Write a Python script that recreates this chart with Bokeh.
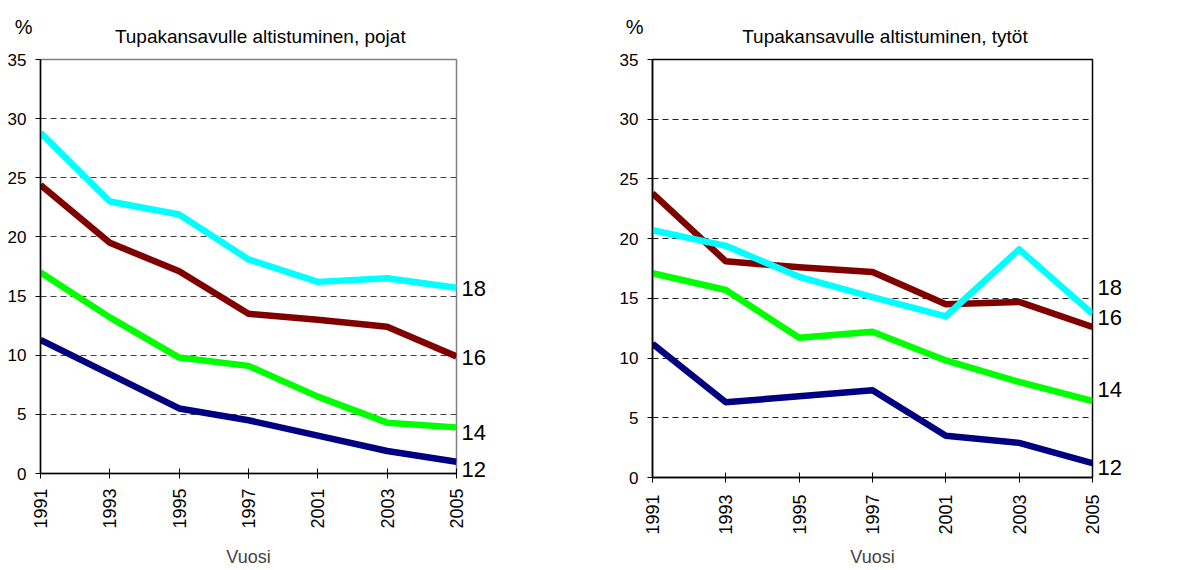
import math
from bokeh.plotting import figure
from bokeh.models import ColumnDataSource, FixedTicker, LinearAxis, Range1d
from bokeh.layouts import row, column
from bokeh.core.properties import value
from bokeh.embed import file_html
from bokeh.resources import INLINE

# ---------------- data ----------------
years = ["1991", "1993", "1995", "1997", "2001", "2003", "2005"]
ages = ["12", "14", "16", "18"]
y_ticks = [0, 5, 10, 15, 20, 25, 30, 35]

boys_12 = [11.3, 8.4, 5.5, 4.5, 3.2, 1.9, 1.0]
boys_14 = [17.0, 13.2, 9.8, 9.1, 6.5, 4.3, 3.9]
boys_16 = [24.4, 19.5, 17.1, 13.5, 13.0, 12.4, 9.9]
boys_18 = [28.8, 23.0, 21.9, 18.1, 16.2, 16.5, 15.7]

girls_12 = [11.2, 6.3, 6.8, 7.3, 3.5, 2.9, 1.2]
girls_14 = [17.1, 15.7, 11.7, 12.2, 9.8, 8.0, 6.4]
girls_16 = [23.8, 18.1, 17.6, 17.2, 14.5, 14.7, 12.6]
girls_18 = [20.7, 19.4, 16.8, 15.1, 13.5, 19.1, 13.7]

title_boys = "Tupakansavulle altistuminen, pojat"
title_girls = "Tupakansavulle altistuminen, tytöt"
x_title = "Vuosi"
y_title = "%"

# ---------------- styling ----------------
COLORS = ["#000080", "#00FF00", "#800000", "#00FFFF"]
FONT = "Liberation Sans"
HEADER_H = 48
TOTAL_H = 570


def make_header(title, width, min_left, min_right, pct_standoff):
    n = len(years)
    h = figure(width=width, height=HEADER_H,
               x_range=Range1d(0, n - 1), y_range=Range1d(HEADER_H, 0),
               output_backend="svg", toolbar_location=None,
               x_axis_location=None, y_axis_location="left",
               min_border_left=min_left, min_border_right=min_right,
               min_border_top=0, min_border_bottom=0)
    h.outline_line_color = None
    h.xgrid.visible = False
    h.ygrid.visible = False
    # "%" as the single tick label of the header's left axis
    h.yaxis.ticker = FixedTicker(ticks=[26.5])
    h.yaxis.major_label_overrides = {26.5: y_title}
    h.yaxis.axis_line_color = None
    h.yaxis.major_tick_line_color = None
    h.yaxis.minor_tick_line_color = None
    h.yaxis.major_tick_out = 0
    h.yaxis.major_tick_in = 0
    h.yaxis.major_label_standoff = pct_standoff
    h.yaxis.major_label_text_font = FONT
    h.yaxis.major_label_text_font_size = "20px"
    h.yaxis.major_label_text_color = "black"
    h.text(x=[3.17], y=[36], text=[title], text_align="center",
           text_baseline="alphabetic", text_font=value(FONT),
           text_font_size="19px", text_color="black")
    return h


def make_chart(series, label_y, width, min_left, min_right, min_bottom,
               outline_color, grid_color, x_label_standoff, axis_label_standoff):
    n = len(years)
    p = figure(width=width, height=TOTAL_H - HEADER_H,
               x_range=Range1d(0, n - 1), y_range=Range1d(0, 35),
               output_backend="svg", toolbar_location=None,
               min_border_left=min_left, min_border_right=min_right,
               min_border_top=59 - HEADER_H, min_border_bottom=min_bottom)
    p.background_fill_color = "white"
    p.border_fill_color = "white"
    p.outline_line_color = outline_color
    p.outline_line_width = 1.5

    src = ColumnDataSource(dict(x=list(range(n)),
                                **{f"a{a}": s for a, s in zip(ages, series)}))
    for a, c in zip(ages, COLORS):
        p.line(x="x", y=f"a{a}", source=src, line_color=c, line_width=6.5,
               line_join="round")

    # axes
    p.xaxis.ticker = FixedTicker(ticks=list(range(n)))
    p.xaxis.major_label_overrides = {i: y for i, y in enumerate(years)}
    p.xaxis.major_label_orientation = math.pi / 2
    p.xaxis.major_label_text_font_size = "18px"
    p.xaxis.major_label_standoff = x_label_standoff
    p.xaxis.major_tick_in = 5
    p.xaxis.major_tick_out = 5
    p.xaxis.axis_label = x_title
    p.xaxis.axis_label_text_font = FONT
    p.xaxis.axis_label_text_font_style = "normal"
    p.xaxis.axis_label_text_font_size = "18px"
    p.xaxis.axis_label_standoff = axis_label_standoff
    p.yaxis.ticker = FixedTicker(ticks=y_ticks)
    p.yaxis.major_label_text_font_size = "17px"
    p.yaxis.major_label_standoff = 9
    p.yaxis.major_tick_in = 0
    p.yaxis.major_tick_out = 5
    for ax in (p.xaxis, p.yaxis):
        ax.axis_line_color = "black"
        ax.axis_line_width = 1.5
        ax.major_tick_line_color = "black"
        ax.major_tick_line_width = 1
        ax.minor_tick_line_color = None
        ax.major_label_text_font = FONT
        ax.major_label_text_color = "black"

    p.xgrid.visible = False
    p.ygrid.grid_line_color = grid_color
    p.ygrid.grid_line_dash = "6 4"
    p.ygrid.grid_line_width = 1

    # series names at the right end, as a tick-labelled right axis
    end_axis = LinearAxis(ticker=FixedTicker(ticks=label_y),
                          major_label_overrides={yv: a for yv, a in zip(label_y, ages)})
    end_axis.axis_line_color = None
    end_axis.major_tick_line_color = None
    end_axis.minor_tick_line_color = None
    end_axis.major_tick_out = 0
    end_axis.major_tick_in = 0
    end_axis.major_label_standoff = 5
    end_axis.major_label_text_font = FONT
    end_axis.major_label_text_font_size = "22px"
    end_axis.major_label_text_color = "black"
    p.add_layout(end_axis, "right")
    return p


h1 = make_header(title_boys, 600, 40, 144, pct_standoff=8)
p1 = make_chart([boys_12, boys_14, boys_16, boys_18],
                [0.3, 3.5, 9.8, 15.6], width=600, min_left=40, min_right=144,
                min_bottom=TOTAL_H - 473, outline_color="#808080",
                grid_color="#404040", x_label_standoff=10,
                axis_label_standoff=15)
h2 = make_header(title_girls, 595, 52, 103, pct_standoff=9)
p2 = make_chart([girls_12, girls_14, girls_16, girls_18],
                [0.8, 7.4, 13.4, 15.9], width=595, min_left=52, min_right=103,
                min_bottom=TOTAL_H - 477, outline_color="black",
                grid_color="#202020", x_label_standoff=12,
                axis_label_standoff=9)

layout = row(column(h1, p1), column(h2, p2))
open("out.html", "w").write(file_html(layout, INLINE))
